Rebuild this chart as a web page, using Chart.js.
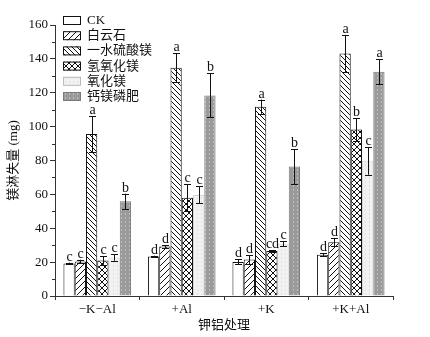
<!DOCTYPE html>
<html>
<head>
<meta charset="utf-8">
<script src="https://cdn.jsdelivr.net/npm/chart.js@4"></script>
<style>
  html,body{margin:0;padding:0;background:#fff}
  #wrap{width:430px;height:337px;position:relative}
</style>
</head>
<body>
<div id="wrap"><canvas id="c" width="430" height="337"></canvas></div>
<script>
// 镁淋失量 by 钾铝处理 and 改良剂
const groups = ['\u2212K\u2212Al', '+Al', '+K', '+K+Al'];
const names = ['CK', '白云石', '一水硫酸镁', '氢氧化镁', '氧化镁', '钙镁磷肥'];

const ck        = [19.2, 23.3, 20.1, 24.4];
const dolomite  = [20.4, 29.2, 21.5, 31.8];
const mgso4     = [95.6, 134.8, 111.8, 143.2];
const mgoh      = [20.9, 58.0, 26.5, 98.3];
const mgo       = [22.7, 59.7, 30.9, 79.8];
const camgp     = [55.9, 118.4, 76.4, 132.4];

const ckErr       = [0.5, 0.5, 1.5, 0.7];
const dolomiteErr = [1.0, 0.8, 2.6, 2.5];
const mgso4Err    = [10.7, 8.5, 4.2, 11.0];
const mgohErr     = [2.5, 8.0, 0.7, 6.8];
const mgoErr      = [1.9, 5.0, 1.6, 8.2];
const camgpErr    = [4.5, 13.0, 10.3, 7.4];

const ckSig       = ['c','d','d','d'];
const dolomiteSig = ['c','d','d','d'];
const mgso4Sig    = ['a','a','a','a'];
const mgohSig     = ['c','c','cd','b'];
const mgoSig      = ['c','c','c','c'];
const camgpSig    = ['b','b','b','a'];

const SERIF = '"Liberation Serif", "Noto Sans CJK SC", serif';

function tile(size, draw){
  const cv = document.createElement('canvas');
  cv.width = size; cv.height = size;
  const g = cv.getContext('2d');
  draw(g, size);
  return g.createPattern(cv, 'repeat');
}
function diag(fwd, s, color){
  return tile(s, (g, n)=>{
    g.fillStyle='#fff'; g.fillRect(0,0,n,n);
    g.strokeStyle=color; g.lineWidth=1;
    g.beginPath();
    if(fwd){
      g.moveTo(-1,n+1); g.lineTo(n+1,-1);
      g.moveTo(-1,1); g.lineTo(1,-1);
      g.moveTo(n-1,n+1); g.lineTo(n+1,n-1);
    } else {
      g.moveTo(-1,-1); g.lineTo(n+1,n+1);
      g.moveTo(n-1,-1); g.lineTo(n+1,1);
      g.moveTo(-1,n-1); g.lineTo(1,n+1);
    }
    g.stroke();
  });
}
function cross(s){
  return tile(s, (g, n)=>{
    g.fillStyle='#fff'; g.fillRect(0,0,n,n);
    g.strokeStyle='#111'; g.lineWidth=1;
    g.beginPath();
    g.moveTo(-1,n+1); g.lineTo(n+1,-1);
    g.moveTo(-1,-1); g.lineTo(n+1,n+1);
    g.stroke();
  });
}
function dots(bg, fg){
  return tile(4, (g, n)=>{
    g.fillStyle=bg; g.fillRect(0,0,n,n);
    g.fillStyle=fg; g.fillRect(1,1,1,2);
  });
}

const fills = [
  '#ffffff',
  diag(true, 6, '#111'),
  diag(false, 5, '#111'),
  cross(6),
  dots('#f2f2f2', '#e2e2e2'),
  dots('#9a9a9a', '#bdbdbd')
];
const borders = ['#111', '#111', '#111', '#111', '#d6d6d6', '#7a7a7a'];

const series = [ck, dolomite, mgso4, mgoh, mgo, camgp];
const errs = [ckErr, dolomiteErr, mgso4Err, mgohErr, mgoErr, camgpErr];
const sigs = [ckSig, dolomiteSig, mgso4Sig, mgohSig, mgoSig, camgpSig];

// error bars with significance letters
const errorBars = {
  id: 'errorBars',
  afterDatasetsDraw(chart){
    const ctx = chart.ctx, y = chart.scales.y;
    ctx.save();
    chart.data.datasets.forEach((ds, i)=>{
      const meta = chart.getDatasetMeta(i);
      meta.data.forEach((bar, j)=>{
        const v = ds.data[j], e = errs[i][j];
        const x = Math.round(bar.x) + 0.5;
        const yt = y.getPixelForValue(v + e), yb = y.getPixelForValue(v - e);
        ctx.strokeStyle = '#111'; ctx.lineWidth = 1;
        ctx.beginPath();
        ctx.moveTo(x, yt); ctx.lineTo(x, yb);
        ctx.moveTo(x - 3.5, Math.round(yt) + 0.5); ctx.lineTo(x + 3.5, Math.round(yt) + 0.5);
        ctx.moveTo(x - 3.5, Math.round(yb) + 0.5); ctx.lineTo(x + 3.5, Math.round(yb) + 0.5);
        ctx.stroke();
        ctx.fillStyle = '#111';
        ctx.font = '14px ' + SERIF;
        ctx.textAlign = 'center'; ctx.textBaseline = 'alphabetic';
        ctx.fillText(sigs[i][j], x, Math.min(yt, bar.y) - 2);
      });
    });
    ctx.restore();
  }
};

// minor y ticks at odd multiples of 10
const minorTicks = {
  id: 'minorTicks',
  afterDraw(chart){
    const ctx = chart.ctx, y = chart.scales.y, x0 = chart.chartArea.left;
    ctx.save();
    ctx.strokeStyle = '#333'; ctx.lineWidth = 1;
    ctx.beginPath();
    for(let v = 10; v < y.max; v += 20){
      const p = Math.round(y.getPixelForValue(v)) + 0.5;
      ctx.moveTo(x0 - 3, p); ctx.lineTo(x0, p);
    }
    ctx.stroke();
    ctx.restore();
  }
};

// legend in the top-left corner of the plot
const boxLegend = {
  id: 'boxLegend',
  afterDraw(chart){
    const ctx = chart.ctx;
    ctx.save();
    names.forEach((n, i)=>{
      const top = 16 + i * 15.2;
      ctx.fillStyle = fills[i];
      ctx.fillRect(63, top, 18, 9);
      ctx.strokeStyle = borders[i] === '#d6d6d6' ? '#bbb' : borders[i];
      ctx.lineWidth = 1;
      ctx.strokeRect(63.5, top + 0.5, 17, 8);
      ctx.fillStyle = '#111';
      ctx.font = '13px ' + SERIF;
      ctx.textAlign = 'left'; ctx.textBaseline = 'middle';
      ctx.fillText(n, 87, top + 4.5);
    });
    ctx.restore();
  }
};

new Chart(document.getElementById('c'), {
  type: 'bar',
  data: {
    labels: groups,
    datasets: series.map((d, i)=>({
      label: names[i],
      data: d,
      backgroundColor: fills[i],
      borderColor: borders[i],
      borderWidth: 1,
      borderSkipped: 'bottom'
    }))
  },
  options: {
    responsive: false,
    animation: false,
    devicePixelRatio: 1,
    layout: {padding: {left: 0, top: 25, right: 37, bottom: 0}},
    datasets: {bar: {categoryPercentage: 0.8, barPercentage: 1.0}},
    plugins: {legend: {display: false}, tooltip: {enabled: false}},
    scales: {
      x: {
        offset: true,
        grid: {offset: true, drawOnChartArea: false, tickLength: 4, color: '#333'},
        border: {color: '#333', width: 1},
        ticks: {color: '#111', font: {family: SERIF, size: 13}, padding: 2, maxRotation: 0},
        title: {display: true, text: '钾铝处理', color: '#111', font: {family: SERIF, size: 13}, padding: {top: 2}},
        afterFit(s){ s.height = 41; }
      },
      y: {
        min: 0, max: 160,
        ticks: {stepSize: 20, color: '#111', font: {family: SERIF, size: 13}, padding: 2},
        grid: {drawOnChartArea: false, tickLength: 5, color: '#333'},
        border: {color: '#333', width: 1},
        title: {display: true, text: '镁淋失量 (mg)', color: '#111', font: {family: SERIF, size: 13}, padding: {top: 6, bottom: 2}},
        afterFit(s){ s.width = 55; }
      }
    }
  },
  plugins: [errorBars, minorTicks, boxLegend]
});
</script>
</body>
</html>
